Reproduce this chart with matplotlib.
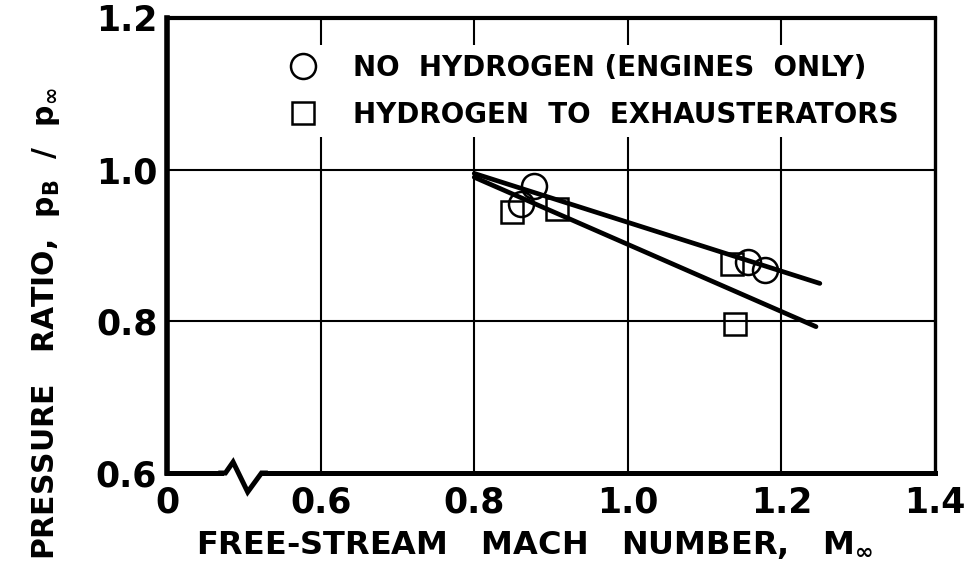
import matplotlib
matplotlib.use("Agg")
import matplotlib.pyplot as plt
from matplotlib.lines import Line2D

plt.rcParams['font.family'] = ['DejaVu Sans']
plt.rcParams['mathtext.fontset'] = 'dejavusans'

# Base pressure ratio p_B/p_inf against free-stream Mach number
mach_no_h2 = [0.861, 0.878, 1.157, 1.179]
ratio_no_h2 = [0.955, 0.979, 0.878, 0.868]
mach_h2 = [0.849, 0.908, 1.135, 1.139]
ratio_h2 = [0.944, 0.948, 0.875, 0.797]

# Faired lines through each set (end points)
fair_no_h2_mach = [0.80, 1.25]
fair_no_h2_ratio = [0.995, 0.850]
fair_h2_mach = [0.80, 1.245]
fair_h2_ratio = [0.990, 0.793]

x_ticks = [0.4, 0.6, 0.8, 1.0, 1.2, 1.4]
x_tick_labels = ['0', '0.6', '0.8', '1.0', '1.2', '1.4']
y_ticks = [0.6, 0.8, 1.0, 1.2]
y_tick_labels = ['0.6', '0.8', '1.0', '1.2']

fig = plt.figure(figsize=(9.74, 5.71), dpi=100)
ax = fig.add_axes([0.1715, 0.1716, 0.7885, 0.7969])
ax.set_xlim(0.4, 1.4)
ax.set_ylim(0.6, 1.2)

# grid
for x in x_ticks[1:-1]:
    ax.axvline(x, color='black', lw=1.5, zorder=1)
for y in y_ticks[1:-1]:
    ax.axhline(y, color='black', lw=1.5, zorder=1)

ax.plot(fair_no_h2_mach, fair_no_h2_ratio, color='black', lw=3.4,
        solid_capstyle='round', zorder=3)
ax.plot(fair_h2_mach, fair_h2_ratio, color='black', lw=3.4,
        solid_capstyle='round', zorder=3)

ax.plot(mach_no_h2, ratio_no_h2, 'o', ms=18, mfc='none', mec='black',
        mew=1.8, zorder=4)
ax.plot(mach_h2, ratio_h2, 's', ms=15.5, mfc='none', mec='black',
        mew=1.8, zorder=4)

ax.set_xticks(x_ticks)
ax.set_xticklabels(x_tick_labels)
ax.set_yticks(y_ticks)
ax.set_yticklabels(y_tick_labels)
ax.tick_params(length=0, labelsize=25, pad=9)
ax.tick_params(axis='y', pad=7)
for lab in ax.get_xticklabels() + ax.get_yticklabels():
    lab.set_fontweight('bold')

ax.spines['left'].set_linewidth(4.0)
ax.spines['bottom'].set_linewidth(3.6)
ax.spines['top'].set_linewidth(3.0)
ax.spines['right'].set_linewidth(2.4)

# axis break on the Mach scale
ax.plot([0.474, 0.524], [0.6, 0.6], color='white', lw=6, clip_on=False,
        zorder=5, solid_capstyle='butt')
ax.plot([0.470, 0.476, 0.486, 0.505, 0.523, 0.528],
        [0.6, 0.6, 0.6145, 0.575, 0.6, 0.6], color='black', lw=3.6,
        clip_on=False, zorder=6, solid_joinstyle='miter')

handles = [
    Line2D([], [], ls='none', marker='o', ms=18, mfc='none', mec='black', mew=1.8),
    Line2D([], [], ls='none', marker='s', ms=15.5, mfc='none', mec='black', mew=1.8),
]
leg = ax.legend(handles, ['NO  HYDROGEN (ENGINES  ONLY)', 'HYDROGEN  TO  EXHAUSTERATORS'],
                loc='upper left', bbox_to_anchor=(0.148, 0.94), borderaxespad=0,
                frameon=True, fancybox=False, facecolor='white', edgecolor='none',
                framealpha=1, handlelength=1.0, handletextpad=1.3,
                labelspacing=0.68, borderpad=0.3,
                prop={'size': 20, 'weight': 'bold'})
leg.set_zorder(2)

ax.set_xlabel(r'FREE-STREAM   MACH   NUMBER,   M$_{\mathbf{\infty}}$',
              fontsize=23, fontweight='bold')
ax.xaxis.set_label_coords(0.479, -0.125)
ax.set_ylabel(r'PRESSURE   RATIO,  $\mathbf{p}_{\mathbf{B}}$  /  $\mathbf{p}_{\mathbf{\infty}}$',
              fontsize=21.5, fontweight='bold')
ax.yaxis.set_label_coords(-0.137, 0.327)

fig.savefig('out.png', dpi=100)
